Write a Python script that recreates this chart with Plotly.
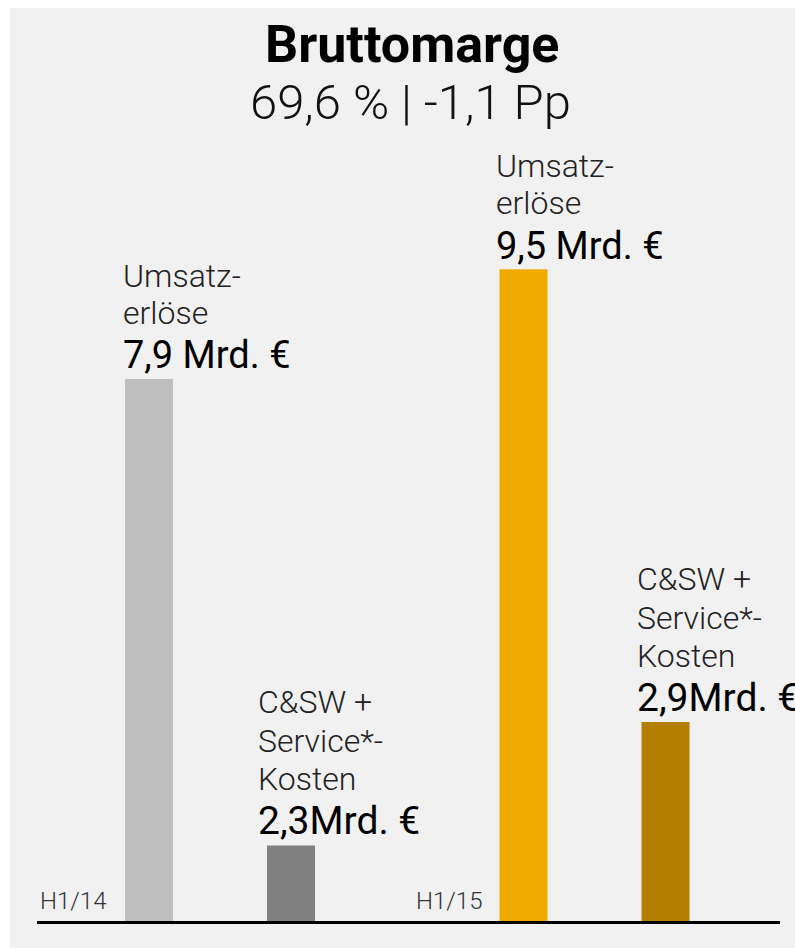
import plotly.graph_objects as go

# ---- data ----
periods = ["H1/14", "H1/15"]
revenue_values = [7.9, 9.5]            # Umsatzerlöse (Mrd. €)
cost_values = [1.1, 2.9]               # C&SW + Service cost bars as drawn
revenue_labels = ["7,9 Mrd. €", "9,5 Mrd. €"]
cost_labels = ["2,3Mrd. €", "2,9Mrd. €"]
revenue_caption = ["Umsatz-", "erlöse"]
cost_caption = ["C&SW +", "Service*-", "Kosten"]
title_text = "Bruttomarge"
subtitle_text = "69,6 % | -1,1 Pp"

revenue_colors = ["#bfbfbf", "#f0ab00"]
cost_colors = ["#808080", "#b47f00"]

# ---- layout geometry (pixels) ----
W, H = 795, 948
PL, PR, PT, PB = 37, 780, 8, 921
plot_w, plot_h = PR - PL, PB - PT
cat_px = 374.5            # distance between group centres
first_center = 220 - PL   # px from plot left
slot_px = 142             # distance between bars in a group
bar_px = 48
px_per_unit = 68.6

x_range = [-first_center / cat_px, (plot_w - first_center) / cat_px]
y_range = [0, plot_h / px_per_unit]
bargap = 1 - 2 * slot_px / cat_px
bargroupgap = 1 - bar_px / slot_px

def py(p):
    return (PB - p) / plot_h

def px(p):
    return (p - PL) / plot_w

FONT = "Roboto"
DESC = 0.244   # descent ratio of the font, used to place baselines


def baseline_shift(dist, size):
    """yshift so that a bottom-anchored single-line text has its baseline `dist` px above anchor."""
    return dist - DESC * size - 1


fig = go.Figure()
fig.add_trace(go.Bar(x=periods, y=revenue_values, marker=dict(color=revenue_colors, line=dict(width=0)),
                     hoverinfo="skip", showlegend=False))
fig.add_trace(go.Bar(x=periods, y=cost_values, marker=dict(color=cost_colors, line=dict(width=0)),
                     hoverinfo="skip", showlegend=False))

ann = []
rev_left = -slot_px / 2 - bar_px / 2
cost_left = slot_px / 2 - bar_px / 2
rev_nudge = [-4, -6]
cost_nudge = [-11, -7]
VAL_D = 10
REV_LINE_D = [91, 54]
COST_LINE_D = [131, 92, 54]
REV_VAL_SIZE, COST_VAL_SIZE, CAP_SIZE = 38, 39, 32

for i, p in enumerate(periods):
    xs_r = rev_left + rev_nudge[i]
    xs_c = cost_left + cost_nudge[i]
    ann.append(dict(x=p, y=revenue_values[i], xref="x", yref="y", text=revenue_labels[i],
                    xanchor="left", yanchor="bottom", xshift=xs_r,
                    yshift=baseline_shift(VAL_D, REV_VAL_SIZE), showarrow=False,
                    font=dict(family=FONT, size=REV_VAL_SIZE, color="#000000", weight=400)))
    for line, d in zip(revenue_caption, REV_LINE_D):
        ann.append(dict(x=p, y=revenue_values[i], xref="x", yref="y", text=line,
                        xanchor="left", yanchor="bottom", xshift=xs_r,
                        yshift=baseline_shift(d, CAP_SIZE), showarrow=False,
                        font=dict(family=FONT, size=CAP_SIZE, color="#222222", weight=300)))
    ann.append(dict(x=p, y=cost_values[i], xref="x", yref="y", text=cost_labels[i],
                    xanchor="left", yanchor="bottom", xshift=xs_c,
                    yshift=baseline_shift(VAL_D, COST_VAL_SIZE), showarrow=False,
                    font=dict(family=FONT, size=COST_VAL_SIZE, color="#000000", weight=400)))
    for line, d in zip(cost_caption, COST_LINE_D):
        ann.append(dict(x=p, y=cost_values[i], xref="x", yref="y", text=line,
                        xanchor="left", yanchor="bottom", xshift=xs_c,
                        yshift=baseline_shift(d, CAP_SIZE), showarrow=False,
                        font=dict(family=FONT, size=CAP_SIZE, color="#222222", weight=300)))
    ann.append(dict(x=p, y=0, xref="x", yref="y", text=p, xanchor="left", yanchor="bottom",
                    xshift=-182 + i * 1.5, yshift=4, showarrow=False,
                    font=dict(family=FONT, size=24, color="#333333", weight=300)))

ann.append(dict(x=px(412), y=py(63 + DESC * 52 + 1), xref="paper", yref="paper", text=title_text,
                xanchor="center", yanchor="bottom", showarrow=False,
                font=dict(family=FONT, size=52, color="#000000", weight=700)))
ann.append(dict(x=px(410), y=py(120 + DESC * 49 + 1), xref="paper", yref="paper", text=subtitle_text,
                xanchor="center", yanchor="bottom", showarrow=False,
                font=dict(family=FONT, size=49, color="#111111", weight=300)))

fig.update_layout(
    width=W, height=H,
    margin=dict(l=PL, r=W - PR, t=PT, b=H - PB, pad=0),
    paper_bgcolor="#ffffff", plot_bgcolor="rgba(0,0,0,0)",
    barmode="group", bargap=bargap, bargroupgap=bargroupgap,
    xaxis=dict(type="category", range=x_range, showgrid=False, zeroline=False,
               showticklabels=False, ticks="", showline=True, linecolor="#000000", linewidth=2.5,
               fixedrange=True),
    yaxis=dict(range=y_range, visible=False, fixedrange=True),
    annotations=ann,
    shapes=[dict(type="rect", xref="paper", yref="paper", layer="below",
                 x0=px(10), x1=px(W + 5), y0=py(H + 5), y1=py(PT),
                 fillcolor="#f1f1f1", line=dict(width=0))],
    showlegend=False,
)

fig.write_html("out.html", config={"displayModeBar": False},
               post_script="document.body.style.margin='0';document.body.style.padding='0';"
                           "document.body.style.overflow='hidden';")
